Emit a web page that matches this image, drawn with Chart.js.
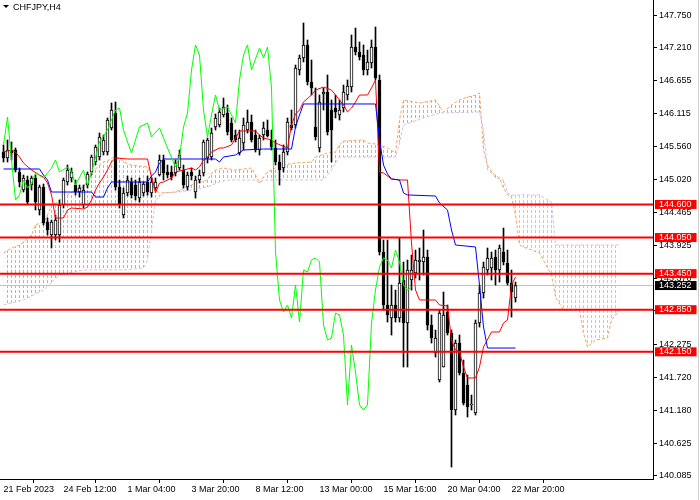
<!DOCTYPE html>
<html>
<head>
<meta charset="utf-8">
<title>CHFJPY,H4</title>
<script src="https://cdn.jsdelivr.net/npm/chart.js@4.4.1/dist/chart.umd.min.js"></script>
<style>
    html, body { margin: 0; padding: 0; background: #fff; }
    #wrap { width: 700px; height: 500px; }
</style>
</head>
<body>
<div id="wrap"><canvas id="chart" width="700" height="500"></canvas></div>
<script>
const symbolTitle = 'CHFJPY,H4';

// H4 candles, one per bar index (0 = first visible bar)
const opens = [
    145.472, 145.372, 145.505, 145.505, 145.140, 144.840, 145.007, 144.923, 145.040, 144.508,
    144.890, 144.308, 144.092, 144.092, 144.092, 144.591, 144.973, 145.040, 144.923, 144.807,
    144.591, 144.923, 145.140, 145.306, 145.389, 145.472, 145.472, 145.871, 146.121, 144.890,
    144.425, 144.790, 144.973, 144.923, 144.707, 144.790, 144.973, 144.790, 144.874, 145.090,
    145.339, 145.140, 145.140, 145.123, 145.206, 145.173, 144.890, 145.140, 144.807, 145.007,
    145.123, 145.372, 145.389, 145.888, 145.921, 146.088, 146.121, 145.955, 145.755, 145.456,
    145.622, 145.838, 145.971, 145.755, 145.505, 145.755, 145.838, 145.672, 145.539, 145.306,
    145.206, 145.472, 145.921, 145.921, 146.836, 147.035, 147.252, 146.636, 145.888, 145.539,
    146.437, 146.470, 146.171, 146.204, 146.088, 146.204, 146.420, 146.553, 147.218, 147.135,
    147.085, 146.836, 146.952, 147.218, 146.670, 143.809, 142.928, 142.712, 142.928, 142.712,
    143.344, 142.629, 143.344, 143.460, 143.643, 143.643, 143.726, 142.595, 142.130, 141.681,
    141.897, 142.812, 142.462, 141.182, 142.296, 141.797, 141.597, 141.265, 141.132, 142.629,
    143.128, 143.510, 143.543, 143.726, 143.510, 143.809, 143.626, 143.294, 143.044
];
const highs = [
    145.589, 145.672, 145.639, 145.539, 145.206, 145.090, 145.073, 145.073, 145.090, 144.923,
    144.940, 144.375, 144.341, 144.425, 144.674, 145.040, 145.256, 145.206, 145.007, 144.923,
    144.923, 145.140, 145.422, 145.589, 145.788, 145.755, 146.038, 146.287, 146.304, 145.007,
    144.874, 145.073, 145.040, 145.007, 145.040, 144.973, 145.073, 145.040, 145.040, 145.422,
    145.422, 145.256, 145.239, 145.339, 145.505, 145.256, 145.140, 145.206, 145.073, 145.173,
    145.672, 145.705, 145.871, 146.104, 146.204, 146.370, 146.254, 146.038, 145.838, 145.838,
    146.038, 146.171, 146.088, 145.838, 145.755, 145.971, 146.004, 145.838, 145.672, 145.422,
    145.589, 146.038, 146.171, 146.919, 147.085, 147.618, 147.335, 147.002, 146.537, 146.420,
    146.537, 146.753, 146.337, 146.420, 146.337, 146.586, 146.670, 147.418, 147.534, 147.302,
    147.252, 147.168, 147.335, 147.551, 146.753, 144.009, 144.009, 143.260, 143.177, 144.042,
    143.643, 143.676, 143.759, 143.842, 143.876, 144.175, 143.842, 142.762, 142.512, 142.845,
    143.144, 142.928, 142.512, 142.346, 142.429, 142.013, 141.764, 141.431, 142.678, 143.260,
    143.643, 143.876, 143.809, 143.842, 143.926, 144.208, 143.842, 143.510, 143.310
];
const lows = [
    145.306, 145.306, 145.339, 145.140, 144.890, 144.807, 144.607, 144.840, 144.508, 144.425,
    144.258, 144.092, 143.876, 144.009, 143.976, 144.541, 144.923, 144.973, 144.757, 144.724,
    144.541, 144.874, 145.090, 145.256, 145.339, 145.422, 145.422, 145.838, 144.840, 144.541,
    144.375, 144.741, 144.707, 144.674, 144.641, 144.741, 144.757, 144.724, 144.840, 145.073,
    145.007, 145.040, 145.007, 145.073, 145.173, 144.874, 144.840, 145.007, 144.707, 144.957,
    145.073, 145.289, 145.339, 145.838, 145.888, 146.054, 145.755, 145.639, 145.639, 145.422,
    145.505, 145.788, 145.639, 145.472, 145.422, 145.672, 145.722, 145.505, 145.256, 144.923,
    145.140, 145.422, 145.838, 145.871, 146.753, 146.969, 146.586, 146.420, 145.672, 145.472,
    146.171, 145.755, 145.306, 146.038, 146.004, 146.137, 146.337, 146.470, 147.085, 147.002,
    146.753, 146.753, 146.869, 146.670, 143.759, 142.845, 142.645, 142.429, 142.645, 142.645,
    141.897, 141.897, 143.177, 143.377, 143.344, 143.427, 142.512, 142.296, 142.063, 141.647,
    141.897, 142.429, 140.234, 141.099, 141.764, 141.265, 141.065, 141.182, 141.099, 142.562,
    143.044, 143.427, 143.344, 143.260, 143.310, 143.593, 143.260, 142.728, 142.978
];
const closes = [
    145.372, 145.505, 145.456, 145.173, 144.973, 145.040, 144.641, 145.040, 144.641, 144.890,
    144.292, 144.175, 144.308, 144.341, 144.591, 145.007, 145.173, 145.140, 144.807, 144.874,
    144.840, 145.106, 145.389, 145.555, 145.722, 145.672, 146.004, 146.171, 144.890, 144.591,
    144.790, 145.007, 144.757, 144.741, 144.973, 144.940, 144.807, 144.973, 144.973, 145.339,
    145.123, 145.090, 145.056, 145.289, 145.422, 144.923, 145.090, 145.073, 145.007, 145.090,
    145.639, 145.672, 145.788, 146.038, 146.137, 146.221, 145.805, 145.672, 145.672, 145.705,
    145.921, 145.971, 145.672, 145.505, 145.705, 145.871, 145.738, 145.555, 145.306, 145.173,
    145.472, 145.971, 145.871, 146.869, 147.035, 147.252, 146.636, 146.537, 145.722, 146.304,
    146.470, 145.805, 145.838, 146.137, 146.171, 146.470, 146.570, 147.218, 147.135, 147.052,
    146.836, 146.969, 147.218, 146.703, 143.809, 142.928, 142.762, 142.928, 142.712, 143.294,
    142.629, 143.510, 143.510, 143.676, 143.676, 143.726, 142.595, 142.379, 142.379, 142.795,
    142.762, 142.462, 141.182, 142.296, 141.797, 141.298, 141.232, 141.282, 142.629, 143.128,
    143.560, 143.709, 143.709, 143.510, 143.876, 143.643, 143.294, 143.144, 143.252
];

// Ichimoku lines at the bars where they turn
const tenkanIdx = [0, 2, 3, 4, 5, 7, 9, 10, 11, 12, 13, 15, 16, 17, 20, 21, 22, 23, 24, 25, 26, 27, 28, 31, 36, 37, 38, 39, 40, 42, 43, 47, 48, 49, 50, 51, 52, 54, 55, 57, 58, 59, 63, 64, 65, 67, 68, 71, 72, 73, 74, 75, 77, 78, 80, 82, 83, 85, 86, 87, 88, 89, 91, 92, 93, 94, 95, 97, 99, 101, 102, 103, 104, 108, 109, 111, 112, 113, 114, 115, 116, 118, 119, 120, 122, 124, 125, 126, 127, 128];
const tenkanVal = [145.473, 145.506, 145.473, 145.389, 145.290, 145.173, 145.090, 145.057, 144.957, 144.758, 144.375, 144.375, 144.508, 144.541, 144.525, 144.558, 144.674, 144.841, 144.957, 145.057, 145.173, 145.306, 145.373, 145.356, 145.356, 145.057, 144.791, 144.957, 144.974, 145.040, 145.140, 145.206, 145.173, 145.223, 145.340, 145.389, 145.473, 145.539, 145.539, 145.589, 145.705, 145.822, 145.822, 145.755, 145.705, 145.672, 145.622, 145.539, 145.921, 146.104, 146.171, 146.304, 146.420, 146.503, 146.553, 146.503, 146.420, 146.254, 146.138, 146.204, 146.304, 146.420, 146.420, 146.537, 146.670, 145.140, 145.123, 145.024, 145.007, 145.007, 143.959, 143.178, 143.012, 143.012, 142.928, 142.912, 142.346, 142.180, 142.147, 141.898, 141.715, 141.715, 141.898, 142.230, 142.480, 142.480, 142.629, 142.679, 143.261, 143.394];

const kijunIdx = [0, 9, 10, 11, 12, 22, 23, 25, 26, 27, 36, 37, 38, 39, 40, 53, 54, 55, 58, 60, 65, 72, 73, 74, 75, 93, 94, 95, 96, 97, 99, 100, 101, 108, 109, 111, 112, 113, 118, 119, 120, 121, 128];
const kijunVal = [145.190, 145.190, 145.090, 145.007, 144.807, 144.807, 144.724, 144.724, 144.874, 144.974, 144.974, 145.073, 145.140, 145.290, 145.356, 145.356, 145.306, 145.389, 145.423, 145.506, 145.522, 145.522, 145.888, 146.088, 146.271, 146.271, 145.672, 145.256, 145.107, 145.024, 145.007, 144.791, 144.758, 144.741, 144.625, 144.508, 144.176, 143.926, 143.893, 143.261, 142.563, 142.213, 142.213];

const chikouIdx = [0, 1, 2, 3, 4, 5, 6, 7, 8, 10, 12, 13, 14, 16, 17, 18, 20, 21, 22, 24, 26, 27, 28, 29, 30, 31, 32, 34, 36, 37, 39, 41, 43, 44, 45, 46, 47, 48, 49, 50, 51, 52, 53, 54, 56, 58, 59, 60, 61, 62, 64, 65, 66, 67, 68, 69, 70, 71, 72, 73, 74, 75, 76, 77, 78, 79, 80, 81, 82, 83, 84, 85, 86, 87, 88, 89, 90, 91, 92, 93, 94, 95, 96, 97, 98, 99, 100, 101, 102];
const chikouVal = [145.589, 146.054, 145.340, 144.674, 144.758, 145.007, 144.874, 144.957, 145.123, 145.040, 145.206, 145.340, 145.140, 145.223, 145.140, 144.924, 145.173, 144.924, 145.123, 145.639, 145.838, 146.005, 146.171, 146.204, 145.838, 145.639, 145.456, 145.888, 145.955, 145.722, 145.872, 145.539, 145.223, 145.389, 145.888, 146.121, 146.836, 147.252, 147.085, 146.171, 145.722, 146.088, 146.420, 146.171, 146.221, 145.955, 146.670, 147.085, 147.252, 146.836, 147.202, 147.036, 147.218, 146.537, 143.810, 143.012, 142.812, 142.928, 142.712, 143.261, 142.646, 143.510, 143.477, 143.677, 143.710, 143.643, 142.596, 142.346, 142.380, 142.795, 142.762, 142.430, 141.266, 142.263, 141.814, 141.266, 141.183, 141.266, 142.629, 143.178, 143.560, 143.710, 143.677, 143.544, 143.843, 143.643, 143.261, 143.178, 143.228];

const senkouAIdx = [0, 2, 4, 5, 7, 8, 10, 11, 12, 13, 14, 15, 16, 18, 20, 21, 22, 24, 25, 26, 27, 29, 30, 32, 36, 37, 38, 39, 43, 47, 51, 52, 53, 55, 58, 62, 63, 64, 65, 66, 68, 70, 73, 77, 78, 81, 83, 84, 85, 90, 91, 93, 96, 98, 99, 100, 104, 108, 110, 112, 114, 116, 118, 119, 120, 121, 122, 124, 125, 126, 127, 128, 129, 130, 134, 137, 138, 140, 144, 145, 146, 148, 151, 152, 154];
const senkouAVal = [143.793, 143.876, 143.926, 143.976, 144.092, 144.259, 144.309, 144.425, 144.591, 144.625, 144.674, 144.724, 144.758, 144.841, 144.891, 145.007, 145.123, 145.256, 145.306, 145.323, 145.373, 145.373, 145.306, 145.256, 145.223, 145.090, 144.841, 144.791, 144.807, 144.924, 145.007, 145.123, 145.173, 145.206, 145.173, 145.206, 145.090, 144.957, 145.057, 145.140, 145.206, 145.256, 145.290, 145.306, 145.389, 145.456, 145.473, 145.589, 145.655, 145.672, 145.622, 145.606, 145.539, 145.456, 146.005, 146.337, 146.287, 146.337, 146.138, 146.254, 146.337, 146.387, 146.420, 146.454, 145.506, 145.256, 145.140, 145.040, 144.874, 144.758, 144.724, 144.425, 143.926, 143.893, 143.793, 143.427, 143.061, 142.845, 142.845, 142.463, 142.230, 142.346, 142.380, 142.679, 142.845];

const senkouBIdx = [0, 5, 10, 14, 20, 30, 35, 36, 37, 38, 39, 40, 44, 47, 51, 54, 56, 63, 64, 65, 80, 82, 84, 98, 99, 100, 105, 109, 119, 120, 121, 122, 123, 125, 126, 127, 134, 137, 138, 154];
const senkouBVal = [142.928, 143.012, 143.178, 143.427, 143.510, 143.510, 143.544, 143.677, 144.176, 144.674, 144.724, 144.791, 144.807, 144.841, 144.891, 144.974, 145.007, 145.007, 144.957, 145.007, 145.007, 145.173, 145.389, 145.389, 145.622, 145.921, 146.038, 146.121, 146.138, 145.838, 145.173, 145.123, 145.040, 145.007, 144.791, 144.758, 144.758, 144.641, 143.926, 143.926];

// horizontal levels and the last price
const levels = [144.600, 144.050, 143.450, 142.850, 142.150];
const lastPrice = 143.252;

// axis labels
const priceTicks = [147.750, 147.210, 146.655, 146.115, 145.560, 145.020, 144.465, 143.925, 143.370, 142.830, 142.275, 141.720, 141.180, 140.625, 140.085];
const timeTickIdx = [0, 15, 31, 47, 63, 79, 95, 111, 127];
const timeTickLabels = ['21 Feb 2023', '24 Feb 12:00', '1 Mar 04:00', '3 Mar 20:00', '8 Mar 12:00', '13 Mar 00:00', '15 Mar 16:00', '20 Mar 04:00', '22 Mar 20:00'];

// visible range
const X_MIN = -0.875, X_MAX = 162.375;
const Y_MIN = 140.035, Y_MAX = 148.0;

const FONT = '"Liberation Sans", Arial, sans-serif';

function hatch(color) {
    const c = document.createElement('canvas');
    c.width = 4;
    c.height = 5;
    const g = c.getContext('2d');
    g.fillStyle = color;
    g.fillRect(3, 0, 1, 3);
    return g.createPattern(c, 'repeat');
}

function points(xs, ys) {
    return xs.map((x, k) => ({ x: x, y: ys[k] }));
}

const bars = opens.map((o, i) => i);

// symbol caption and the window edge
const framePlugin = {
    id: 'frame',
    afterDraw(chart) {
        const ctx = chart.ctx;
        ctx.save();
        ctx.fillStyle = '#000';
        ctx.beginPath();
        ctx.moveTo(3, 5);
        ctx.lineTo(9, 5);
        ctx.lineTo(6, 8);
        ctx.closePath();
        ctx.fill();
        ctx.font = '9px ' + FONT;
        ctx.textBaseline = 'middle';
        ctx.fillText(symbolTitle, 13, 7.5);
        ctx.fillStyle = '#d0d0d0';
        ctx.fillRect(698, 0, 1, chart.height);
        ctx.restore();
    }
};

const lineBase = { type: 'line', borderWidth: 1, pointRadius: 0, tension: 0, fill: false };

const datasets = [];

// level lines on top
levels.forEach(v => {
    datasets.push(Object.assign({}, lineBase, {
        data: [{ x: X_MIN, y: v }, { x: X_MAX, y: v }],
        borderColor: '#ff0000',
        borderWidth: 2,
        order: 0
    }));
});

datasets.push(Object.assign({}, lineBase, {
    data: points(chikouIdx, chikouVal), borderColor: '#00ff00', order: 1
}));
datasets.push(Object.assign({}, lineBase, {
    data: points(kijunIdx, kijunVal), borderColor: '#0000ff', order: 2
}));
datasets.push(Object.assign({}, lineBase, {
    data: points(tenkanIdx, tenkanVal), borderColor: '#ff0000', order: 3
}));

// candle bodies and wicks
datasets.push({
    type: 'bar',
    data: bars.map(i => ({ x: i, y: [opens[i], closes[i]] })),
    backgroundColor: ctx => closes[ctx.dataIndex] >= opens[ctx.dataIndex] ? '#ffffff' : '#000000',
    borderColor: '#000000',
    borderWidth: 1,
    borderSkipped: false,
    barThickness: 3,
    grouped: false,
    order: 4
});
datasets.push({
    type: 'bar',
    data: bars.map(i => ({ x: i, y: [lows[i], highs[i]] })),
    backgroundColor: '#000000',
    borderWidth: 0,
    barThickness: 1,
    grouped: false,
    order: 5
});

// last price line
datasets.push(Object.assign({}, lineBase, {
    data: [{ x: X_MIN, y: lastPrice }, { x: X_MAX, y: lastPrice }],
    borderColor: '#c0c0c0',
    order: 6
}));

// cloud: span A filled against span B (next dataset)
datasets.push(Object.assign({}, lineBase, {
    data: points(senkouAIdx, senkouAVal),
    borderColor: '#f4a460',
    borderDash: [3, 2],
    fill: { target: '+1', above: hatch('#f4a460'), below: hatch('#d8bfd8') },
    order: 8
}));
datasets.push(Object.assign({}, lineBase, {
    data: points(senkouBIdx, senkouBVal),
    borderColor: '#d8bfd8',
    borderDash: [3, 2],
    order: 7
}));

const nPrice = priceTicks.length;
const nLevel = levels.length;

new Chart(document.getElementById('chart'), {
    type: 'line',
    data: { datasets: datasets },
    plugins: [framePlugin],
    options: {
        responsive: false,
        animation: false,
        devicePixelRatio: 1,
        events: [],
        layout: { padding: 0 },
        plugins: {
            legend: { display: false },
            title: { display: false },
            tooltip: { enabled: false }
        },
        scales: {
            x: {
                type: 'linear',
                min: X_MIN,
                max: X_MAX,
                bounds: 'data',
                offset: false,
                border: { display: true, color: '#000000', width: 1 },
                grid: { display: true, drawOnChartArea: false, drawTicks: true, tickLength: 4, color: '#000000' },
                ticks: {
                    autoSkip: false,
                    maxRotation: 0,
                    align: 'start',
                    padding: 2,
                    color: '#000000',
                    font: { family: FONT, size: 9, lineHeight: 1 },
                    callback: (value, index) => timeTickLabels[index]
                },
                afterBuildTicks: scale => {
                    scale.ticks = timeTickIdx.map(v => ({ value: v }));
                },
                afterFit: scale => {
                    scale.height = 21;
                    scale.paddingLeft = 0;
                    scale.paddingRight = 0;
                }
            },
            y: {
                type: 'linear',
                position: 'right',
                min: Y_MIN,
                max: Y_MAX,
                bounds: 'data',
                border: { display: true, color: '#000000', width: 1 },
                grid: {
                    display: true,
                    drawOnChartArea: false,
                    drawTicks: true,
                    tickLength: 4,
                    color: ctx => ctx.index < nPrice ? '#000000' : 'rgba(0,0,0,0)'
                },
                ticks: {
                    autoSkip: false,
                    padding: 2,
                    font: { family: FONT, size: 9, lineHeight: 1 },
                    color: ctx => ctx.index < nPrice ? '#000000' : '#ffffff',
                    showLabelBackdrop: true,
                    backdropPadding: { left: 4, right: 5, top: 0, bottom: 0 },
                    backdropColor: ctx => {
                        if (ctx.index < nPrice) return 'rgba(0,0,0,0)';
                        if (ctx.index < nPrice + nLevel) return '#ff0000';
                        return '#000000';
                    },
                    callback: value => Number(value).toFixed(3)
                },
                afterBuildTicks: scale => {
                    scale.ticks = priceTicks.map(v => ({ value: v }))
                        .concat(levels.map(v => ({ value: v })))
                        .concat([{ value: lastPrice }]);
                },
                afterFit: scale => {
                    scale.width = 47;
                    scale.paddingTop = 0;
                    scale.paddingBottom = 0;
                }
            }
        }
    }
});
</script>
</body>
</html>
